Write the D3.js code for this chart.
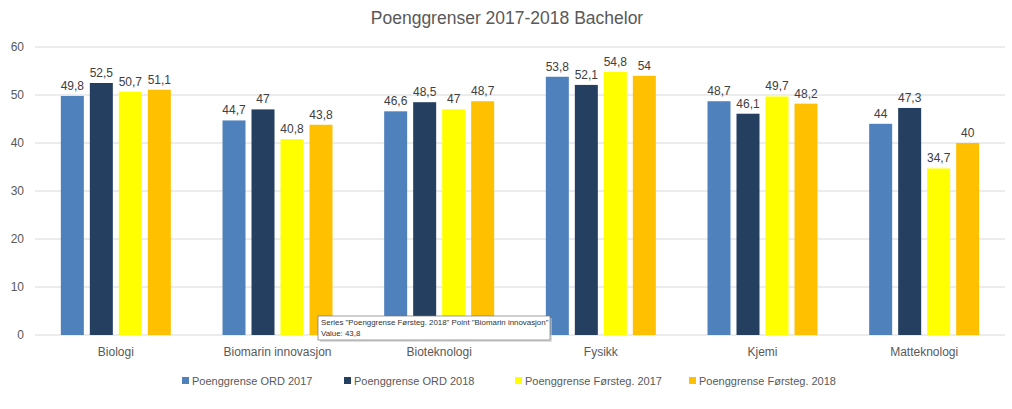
<!DOCTYPE html>
<html><head><meta charset="utf-8">
<script src="https://cdn.jsdelivr.net/npm/d3@7"></script>
<style>body{margin:0;background:#fff}svg{font-family:"Liberation Sans",Arial,sans-serif}</style>
</head><body><svg id="c" width="1012" height="409"></svg>
<script>
const categories = ["Biologi","Biomarin innovasjon","Bioteknologi","Fysikk","Kjemi","Matteknologi"];
const seriesNames = ["Poenggrense ORD 2017","Poenggrense ORD 2018","Poenggrense Førsteg. 2017","Poenggrense Førsteg. 2018"];
const ord2017 = [49.8,44.7,46.6,53.8,48.7,44];
const ord2018 = [52.5,47,48.5,52.1,46.1,47.3];
const forst2017 = [50.7,40.8,47,54.8,49.7,34.7];
const forst2018 = [51.1,43.8,48.7,54,48.2,40];
const yTicks = [0,10,20,30,40,50,60];
const colors = ["#4F81BD","#243F60","#FFFF00","#FFC000"];
const seriesValues = [ord2017, ord2018, forst2017, forst2018];

const svg = d3.select("#c");
const pLeft = 35, pRight = 1005, pTop = 47, pBottom = 335;
const fmt = v => String(v).replace(".", ",");

const y = d3.scaleLinear().domain([0,60]).range([pBottom, pTop]);
const x0 = d3.scaleBand().domain(categories).range([pLeft, pRight]);
const gw = 110;
const x1 = d3.scaleBand().domain(seriesNames).range([(x0.step()-gw)/2, (x0.step()+gw)/2]).paddingInner(0.207);

svg.append("text").attr("x", 507).attr("y", 24).attr("text-anchor","middle")
  .attr("font-size", 17.5).attr("fill","#595959").text("Poenggrenser 2017-2018 Bachelor");

// grid
svg.append("g").selectAll("line").data(yTicks).join("line")
  .attr("x1", pLeft).attr("x2", pRight).attr("y1", d=>y(d)).attr("y2", d=>y(d))
  .attr("stroke","#d9d9d9").attr("stroke-width",1);
svg.append("g").selectAll("text").data(yTicks).join("text")
  .attr("x", 24).attr("y", d=>y(d)+4).attr("text-anchor","end")
  .attr("font-size", 12).attr("fill","#595959").text(d=>d);

// bars
const data = [];
categories.forEach((c,i)=>seriesNames.forEach((s,j)=>data.push({c,s,j,v:seriesValues[j][i]})));
svg.append("g").selectAll("rect").data(data).join("rect")
  .attr("x", d=>x0(d.c)+x1(d.s)).attr("width", x1.bandwidth())
  .attr("y", d=>y(d.v)).attr("height", d=>y(0)-y(d.v)).attr("fill", d=>colors[d.j]);
svg.append("g").selectAll("text").data(data).join("text")
  .attr("x", d=>x0(d.c)+x1(d.s)+x1.bandwidth()/2).attr("y", d=>y(d.v)-6)
  .attr("text-anchor","middle").attr("font-size", 12).attr("fill","#404040").text(d=>fmt(d.v));

// category labels
svg.append("g").selectAll("text").data(categories).join("text")
  .attr("x", d=>x0(d)+x0.bandwidth()/2).attr("y", 356).attr("text-anchor","middle")
  .attr("font-size", 12).attr("fill","#595959").text(d=>d);

// legend
const legX = [182, 344, 515, 689];
const lg = svg.append("g").selectAll("g").data(seriesNames).join("g")
  .attr("transform",(d,i)=>`translate(${legX[i]},381)`);
lg.append("rect").attr("x",0).attr("y",-4).attr("width",7).attr("height",7).attr("fill",(d,i)=>colors[i]);
lg.append("text").attr("x",10).attr("y",4).attr("font-size",11).attr("fill","#595959").text(d=>d);

// tooltip
const tt = svg.append("g").attr("transform","translate(318,316)");
tt.append("rect").attr("x",2).attr("y",2).attr("width",232).attr("height",24).attr("fill","#c8c8c8").attr("opacity",0.6);
tt.append("rect").attr("width",232).attr("height",24).attr("fill","#fff").attr("stroke","#767676").attr("stroke-width",0.7);
tt.append("text").attr("x",3).attr("y",9).attr("font-size",7.9).attr("fill","#333")
  .text(`Series "${seriesNames[3]}" Point "${categories[1]}"`);
tt.append("text").attr("x",3).attr("y",20).attr("font-size",7.9).attr("fill","#333")
  .text(`Value: ${fmt(forst2018[1])}`);
</script></body></html>
